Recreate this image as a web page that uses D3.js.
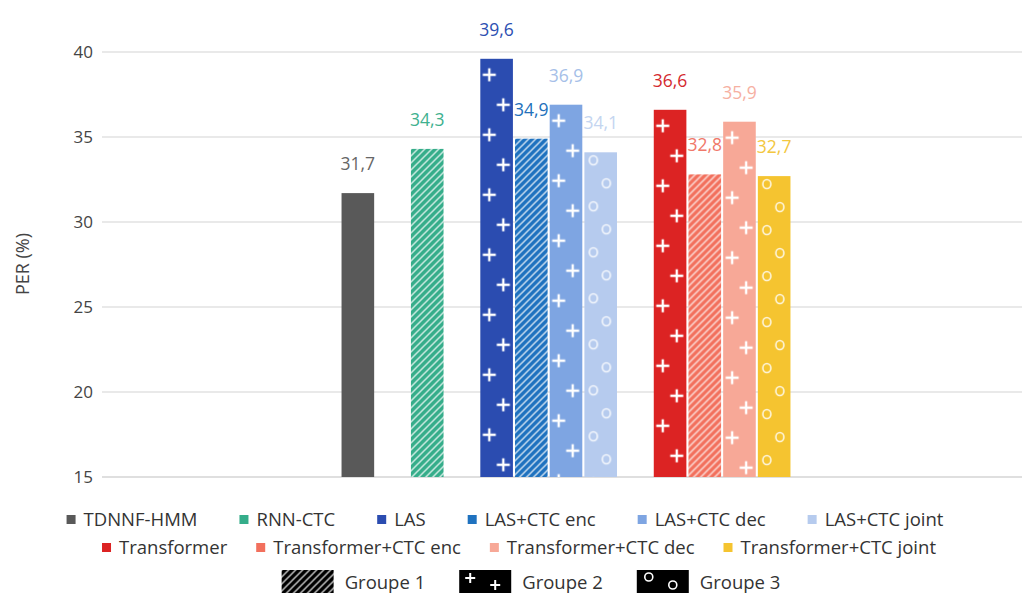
<!DOCTYPE html>
<html>
<head>
<meta charset="utf-8"/>
<script src="https://d3js.org/d3.v7.min.js"></script>
<style>
    body { margin: 0; background: #ffffff; }
    svg { display: block; font-family: "Open Sans", sans-serif; }
    .grid line { stroke: #e2e2e2; stroke-width: 1.5; }
    .yaxis text { fill: #444444; font-size: 17px; }
    .leg text { fill: #333333; font-size: 18.5px; }
</style>
</head>
<body>
<svg id="chart" width="1025" height="604"></svg>
<script>
// data
var categories = ["TDNNF-HMM", "RNN-CTC", "LAS", "LAS+CTC enc", "LAS+CTC dec", "LAS+CTC joint",
                  "Transformer", "Transformer+CTC enc", "Transformer+CTC dec", "Transformer+CTC joint"];
var families   = ["TDNNF", "RNN", "LAS", "LAS", "LAS", "LAS", "TR", "TR", "TR", "TR"];
var values     = [31.7, 34.3, 39.6, 34.9, 36.9, 34.1, 36.6, 32.8, 35.9, 32.7];
var groupes    = [0, 1, 2, 1, 2, 3, 2, 1, 2, 3];   // 0 = plain, 1 hatch, 2 plus, 3 circles
var colors     = ["#595959", "#35ad8a", "#2b4cb0", "#1f72bf", "#7ea5e2", "#b6cbee",
                  "#dc2323", "#f2705d", "#f7a897", "#f5c430"];
var labelColors = ["#666666", "#3fb18f", "#2d4fb2", "#2370bb", "#a6bfe8", "#c4d5f0",
                   "#d42a2f", "#f0786a", "#f6b0a2", "#f3c740"];
var yTicks = [15, 20, 25, 30, 35, 40];
var groupeLabels = ["Groupe 1", "Groupe 2", "Groupe 3"];

var svg = d3.select("#chart");
var defs = svg.append("defs");

// x slots: one per series, with an empty slot between families
var slots = [];
categories.forEach(function(c, i) {
    if (i > 0 && families[i] != families[i-1]) slots.push("gap" + i);
    slots.push(c);
});

var x = d3.scaleBand().domain(slots).range([340.5, 791.5]).paddingInner(0.06).paddingOuter(0.03);
var y = d3.scaleLinear().domain([15, 40]).range([477, 52]);

// gridlines
svg.append("g").attr("class", "grid")
    .selectAll("line").data(yTicks).enter().append("line")
    .attr("x1", 102).attr("x2", 1022)
    .attr("y1", function(d) { return y(d); }).attr("y2", function(d) { return y(d); })
    .style("stroke", function(d) { return d == 15 ? "#d4d4d4" : null; });

// y axis labels
var yAxis = d3.axisLeft(y).tickValues(yTicks).tickSize(0).tickPadding(10);
svg.append("g").attr("class", "yaxis").attr("transform", "translate(93,0)").call(yAxis)
    .call(function(g) { g.select(".domain").remove(); })
    .selectAll("text").attr("x", 0).style("font-family", "Open Sans, sans-serif");

svg.append("text").attr("transform", "translate(29,264) rotate(-90)")
    .attr("text-anchor", "middle").attr("fill", "#444444").attr("font-size", 18)
    .text("PER (%)");

// fill patterns
function makePattern(id, type, color, x0, y0) {
    var p;
    if (type == 1) {
        p = defs.append("pattern").attr("id", id).attr("patternUnits", "userSpaceOnUse")
            .attr("width", 7).attr("height", 7).attr("x", x0).attr("y", y0);
        p.append("rect").attr("width", 7).attr("height", 7).attr("fill", color);
        p.append("path").attr("d", "M-1,8 L8,-1 M-2,2 L2,-2 M5,9 L9,5")
            .attr("stroke", "#ffffff").attr("stroke-opacity", 0.75).attr("stroke-width", 1.5);
    } else if (type == 2) {
        p = defs.append("pattern").attr("id", id).attr("patternUnits", "userSpaceOnUse")
            .attr("width", 34).attr("height", 60).attr("x", x0).attr("y", y0);
        p.append("rect").attr("width", 34).attr("height", 60).attr("fill", color);
        [[9, 16], [23, 46]].forEach(function(c) {
            p.append("path").attr("d", "M" + (c[0]-6.5) + "," + c[1] + "h13M" + c[0] + "," + (c[1]-6.5) + "v13")
                .attr("stroke", "#ffffff").attr("stroke-width", 2.4);
        });
    } else if (type == 3) {
        p = defs.append("pattern").attr("id", id).attr("patternUnits", "userSpaceOnUse")
            .attr("width", 34).attr("height", 46).attr("x", x0).attr("y", y0);
        p.append("rect").attr("width", 34).attr("height", 46).attr("fill", color);
        [[9, 8], [22, 31]].forEach(function(c) {
            p.append("ellipse").attr("cx", c[0]).attr("cy", c[1]).attr("rx", 4).attr("ry", 4.5)
                .attr("fill", "none").attr("stroke", "#ffffff").attr("stroke-opacity", 0.85).attr("stroke-width", 1.6);
        });
    }
}

categories.forEach(function(c, i) {
    if (groupes[i] > 0) makePattern("pat" + i, groupes[i], colors[i], x(c), y(values[i]));
});

// bars
svg.append("g").selectAll("rect").data(categories).enter().append("rect")
    .attr("x", function(d) { return x(d); })
    .attr("y", function(d, i) { return y(values[i]); })
    .attr("width", x.bandwidth())
    .attr("height", function(d, i) { return y(15) - y(values[i]); })
    .attr("fill", function(d, i) { return groupes[i] > 0 ? "url(#pat" + i + ")" : colors[i]; });

// value labels
svg.append("g").selectAll("text").data(categories).enter().append("text")
    .attr("x", function(d) { return x(d) + x.bandwidth() / 2; })
    .attr("y", function(d, i) { return y(values[i]) - 23; })
    .attr("text-anchor", "middle").attr("font-size", 17.5)
    .attr("fill", function(d, i) { return labelColors[i]; })
    .text(function(d, i) { return d3.format(".1f")(values[i]).replace(".", ","); });

// legend rows (series)
var leg = svg.append("g").attr("class", "leg");
function legendRow(items, cy, cx, gap) {
    var row = leg.append("g");
    var pos = 0;
    items.forEach(function(i) {
        var it = row.append("g").attr("transform", "translate(" + pos + ",0)");
        it.append("rect").attr("x", 0).attr("y", cy - 4).attr("width", 9).attr("height", 9).attr("fill", colors[i]);
        var t = it.append("text").attr("x", 17).attr("y", cy + 7).text(categories[i]);
        pos += 17 + t.node().getComputedTextLength() + gap;
    });
    pos -= gap;
    row.attr("transform", "translate(" + (cx - pos / 2) + ",0)");
}
legendRow([0, 1, 2, 3, 4, 5], 519, 505, 42);
legendRow([6, 7, 8, 9], 547, 519, 29);

// legend row (groupes)
makePattern("lg1", 1, "#000000", 0, 0);
var grow = leg.append("g");
var gpos = 0;
groupeLabels.forEach(function(g, k) {
    var it = grow.append("g").attr("transform", "translate(" + gpos + ",570)");
    var bw = 52, bh = 23;
    if (k == 0) {
        it.append("rect").attr("width", bw).attr("height", bh).attr("fill", "url(#lg1)");
    } else {
        it.append("rect").attr("width", bw).attr("height", bh).attr("fill", "#000000");
        if (k == 1) {
            [[11, 8], [36, 15]].forEach(function(c) {
                it.append("path").attr("d", "M" + (c[0]-5) + "," + c[1] + "h10M" + c[0] + "," + (c[1]-5) + "v10")
                    .attr("stroke", "#ffffff").attr("stroke-width", 2);
            });
        } else {
            [[12, 7], [36, 15]].forEach(function(c) {
                it.append("circle").attr("cx", c[0]).attr("cy", c[1]).attr("r", 4)
                    .attr("fill", "none").attr("stroke", "#ffffff").attr("stroke-width", 1.6);
            });
        }
    }
    var t = it.append("text").attr("x", bw + 11).attr("y", 19).attr("font-size", 20).text(g);
    gpos += bw + 11 + t.node().getComputedTextLength() + 34;
});
gpos -= 34;
grow.attr("transform", "translate(" + (531 - gpos / 2) + ",0)");
</script>
</body>
</html>
